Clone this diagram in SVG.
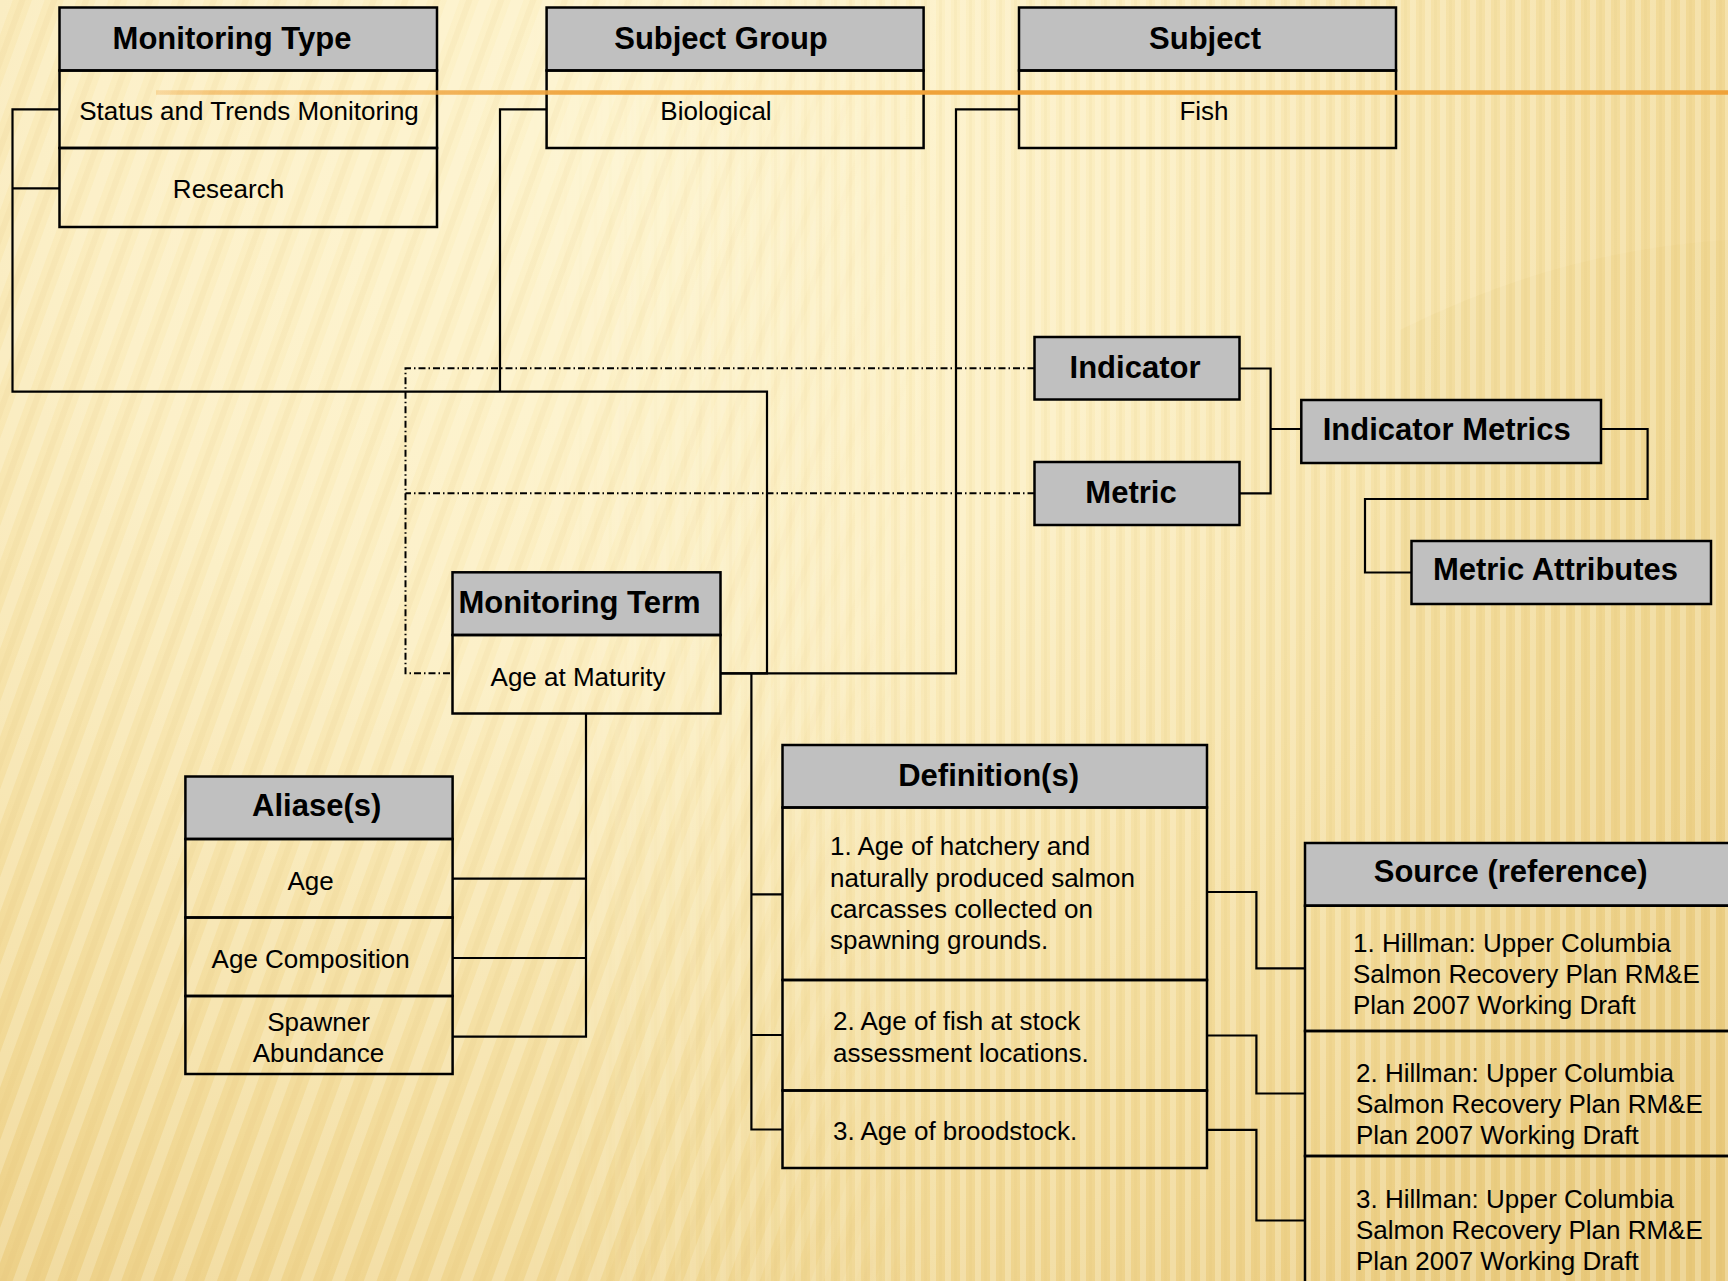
<svg xmlns="http://www.w3.org/2000/svg" width="1728" height="1281" viewBox="0 0 1728 1281">
<defs>
<radialGradient id="bg" cx="620" cy="150" r="1500" gradientUnits="userSpaceOnUse">
<stop offset="0" stop-color="#FDF3CC"/>
<stop offset="0.35" stop-color="#FBEDBF"/>
<stop offset="0.7" stop-color="#F2DA98"/>
<stop offset="1" stop-color="#E8C778"/>
</radialGradient>
<pattern id="stV" width="15" height="60" patternUnits="userSpaceOnUse">
<rect x="0" width="6" height="60" fill="#FFFBE8" opacity="0.28"/>
<rect x="9" width="3" height="60" fill="#D9B460" opacity="0.07"/>
</pattern>
<pattern id="stD" width="30" height="60" patternUnits="userSpaceOnUse" patternTransform="rotate(20)">
<rect x="0" width="12" height="60" fill="#FFFBE8" opacity="0.26"/>
<rect x="18" width="6" height="60" fill="#D9B460" opacity="0.08"/>
</pattern>
<linearGradient id="mD" x1="0" y1="0" x2="1728" y2="0" gradientUnits="userSpaceOnUse">
<stop offset="0" stop-color="#fff"/>
<stop offset="0.35" stop-color="#fff"/>
<stop offset="0.55" stop-color="#000"/>
</linearGradient>
<linearGradient id="mV" x1="0" y1="0" x2="1728" y2="0" gradientUnits="userSpaceOnUse">
<stop offset="0.3" stop-color="#000"/>
<stop offset="0.55" stop-color="#fff"/>
</linearGradient>
<mask id="maskD"><rect width="1728" height="1281" fill="url(#mD)"/></mask>
<mask id="maskV"><rect width="1728" height="1281" fill="url(#mV)"/></mask>
<linearGradient id="orange" x1="156" y1="0" x2="1728" y2="0" gradientUnits="userSpaceOnUse">
<stop offset="0" stop-color="#EFA23A" stop-opacity="0.3"/>
<stop offset="0.04" stop-color="#EFA23A" stop-opacity="0.55"/>
<stop offset="0.19" stop-color="#EFA23A" stop-opacity="0.8"/>
<stop offset="0.3" stop-color="#EFA23A" stop-opacity="1"/>
<stop offset="1" stop-color="#EFA23A" stop-opacity="1"/>
</linearGradient>
</defs>
<style>
.hd{fill:#C0C0C0;stroke:#000;stroke-width:2.5}
.bd{fill:none;stroke:#000;stroke-width:2.5}
.ht{font-family:"Liberation Sans",Arial,sans-serif;font-size:31px;font-weight:bold;fill:#000;text-anchor:middle}
.bt{font-family:"Liberation Sans",Arial,sans-serif;font-size:26px;fill:#000;text-anchor:middle}
.lt{font-family:"Liberation Sans",Arial,sans-serif;font-size:26px;fill:#000}
.cn{fill:none;stroke:#000;stroke-width:2.2}
.dd{fill:none;stroke:#000;stroke-width:2;stroke-dasharray:7 3 1.5 3}
</style>

<g id="background">
<rect width="1728" height="1281" fill="url(#bg)"/>
<path d="M1400 330 Q1560 250 1728 240 L1728 1281 L1400 1281 Z" fill="#E9CC82" opacity="0.18"/>
<rect width="1728" height="1281" fill="url(#stD)" mask="url(#maskD)"/>
<rect width="1728" height="1281" fill="url(#stV)" mask="url(#maskV)"/>
</g>

<g id="connectors">
<path class="cn" d="M59.5 109.3 H12.5 V391.7 H767 V673.3 H720.7"/>
<path class="cn" d="M59.5 188.3 H12.5"/>
<path class="cn" d="M546.6 109.3 H500 V391.7"/>
<path class="cn" d="M1019 109.3 H956 V673.3 H720.7"/>
<path class="cn" d="M751.4 673.3 V1129.5 H782.5 M751.4 894.3 H782.5 M751.4 1035 H782.5"/>
<path class="cn" d="M586 713.5 V1036.7 H452.6 M452.6 878.7 H586 M452.6 958 H586"/>
<path class="cn" d="M1207 892 H1256.4 V968.4 H1305"/>
<path class="cn" d="M1207 1035.5 H1256.4 V1093.5 H1305"/>
<path class="cn" d="M1207 1129.8 H1256.4 V1220.5 H1305"/>
<path class="cn" d="M1239.5 368.5 H1270.6 V493.3 H1239.5 M1270.6 429 H1301.3"/>
<path class="cn" d="M1601 429 H1647.6 V499 H1365 V572.5 H1411.5"/>
<path class="dd" d="M1034.5 368.3 H405.5 V673.3 H452.5"/>
<path class="dd" d="M1034.5 493.3 H405.5"/>
</g>

<g id="monitoring-type">
<rect class="hd" x="59.5" y="7.5" width="377.5" height="63"/>
<rect class="bd" x="59.5" y="70.5" width="377.5" height="77.5"/>
<rect class="bd" x="59.5" y="148" width="377.5" height="79"/>
<text class="ht" x="232" y="48.5">Monitoring Type</text>
<text class="bt" x="249" y="120">Status and Trends Monitoring</text>
<text class="bt" x="228.5" y="198">Research</text>
</g>

<g id="subject-group">
<rect class="hd" x="546.6" y="7.5" width="377" height="63"/>
<rect class="bd" x="546.6" y="70.5" width="377" height="77.5"/>
<text class="ht" x="721" y="48.5">Subject Group</text>
<text class="bt" x="716" y="120">Biological</text>
</g>

<g id="subject">
<rect class="hd" x="1019" y="7.5" width="377" height="63"/>
<rect class="bd" x="1019" y="70.5" width="377" height="77.5"/>
<text class="ht" x="1205" y="48.5">Subject</text>
<text class="bt" x="1204" y="120">Fish</text>
</g>

<line id="title-rule" x1="156" y1="92.5" x2="1728" y2="92.5" stroke="url(#orange)" stroke-width="4.5"/>

<g id="indicator">
<rect class="hd" x="1034.5" y="337" width="205" height="62.5"/>
<text class="ht" x="1135" y="377.5">Indicator</text>
</g>

<g id="metric">
<rect class="hd" x="1034.5" y="462" width="205" height="63"/>
<text class="ht" x="1131" y="502.5">Metric</text>
</g>

<g id="indicator-metrics">
<rect class="hd" x="1301.3" y="400" width="299.7" height="63"/>
<text class="ht" x="1446.7" y="440">Indicator Metrics</text>
</g>

<g id="metric-attributes">
<rect class="hd" x="1411.5" y="541" width="299.5" height="63"/>
<text class="ht" x="1555.5" y="580">Metric Attributes</text>
</g>

<g id="monitoring-term">
<rect class="hd" x="452.5" y="572.3" width="268" height="62.7"/>
<rect class="bd" x="452.5" y="635" width="268" height="78.5"/>
<text class="ht" x="579.5" y="613">Monitoring Term</text>
<text class="bt" x="578" y="686">Age at Maturity</text>
</g>

<g id="aliases">
<rect class="hd" x="185.4" y="776.5" width="267.2" height="62.5"/>
<rect class="bd" x="185.4" y="839" width="267.2" height="78.5"/>
<rect class="bd" x="185.4" y="917.5" width="267.2" height="78.5"/>
<rect class="bd" x="185.4" y="996" width="267.2" height="78"/>
<text class="ht" x="316.7" y="816">Aliase(s)</text>
<text class="bt" x="310.6" y="890">Age</text>
<text class="bt" x="310.6" y="967.5">Age Composition</text>
<text class="bt" x="318.5" y="1031">Spawner</text>
<text class="bt" x="318.5" y="1062">Abundance</text>
</g>

<g id="definitions">
<rect class="hd" x="782.5" y="745" width="424.5" height="62.5"/>
<rect class="bd" x="782.5" y="807.5" width="424.5" height="172.5"/>
<rect class="bd" x="782.5" y="980" width="424.5" height="110.5"/>
<rect class="bd" x="782.5" y="1090.5" width="424.5" height="77.5"/>
<text class="ht" x="988.6" y="786">Definition(s)</text>
<text class="lt" x="830" y="855">1. Age of hatchery and</text>
<text class="lt" x="830" y="886.5">naturally produced salmon</text>
<text class="lt" x="830" y="918">carcasses collected on</text>
<text class="lt" x="830" y="949">spawning grounds.</text>
<text class="lt" x="833" y="1030">2. Age of fish at stock</text>
<text class="lt" x="833" y="1062">assessment locations.</text>
<text class="lt" x="833" y="1140">3. Age of broodstock.</text>
</g>

<g id="source">
<rect class="hd" x="1305" y="843" width="440" height="62.7"/>
<rect class="bd" x="1305" y="905.7" width="440" height="125.3"/>
<rect class="bd" x="1305" y="1031" width="440" height="125"/>
<rect class="bd" x="1305" y="1156" width="440" height="130"/>
<text class="ht" x="1510.7" y="882">Source (reference)</text>
<text class="lt" x="1353" y="952">1. Hillman: Upper Columbia</text>
<text class="lt" x="1353" y="983">Salmon Recovery Plan RM&amp;E</text>
<text class="lt" x="1353" y="1014">Plan 2007 Working Draft</text>
<text class="lt" x="1356" y="1081.5">2. Hillman: Upper Columbia</text>
<text class="lt" x="1356" y="1112.5">Salmon Recovery Plan RM&amp;E</text>
<text class="lt" x="1356" y="1143.5">Plan 2007 Working Draft</text>
<text class="lt" x="1356" y="1207.5">3. Hillman: Upper Columbia</text>
<text class="lt" x="1356" y="1238.5">Salmon Recovery Plan RM&amp;E</text>
<text class="lt" x="1356" y="1269.5">Plan 2007 Working Draft</text>
</g>
</svg>
